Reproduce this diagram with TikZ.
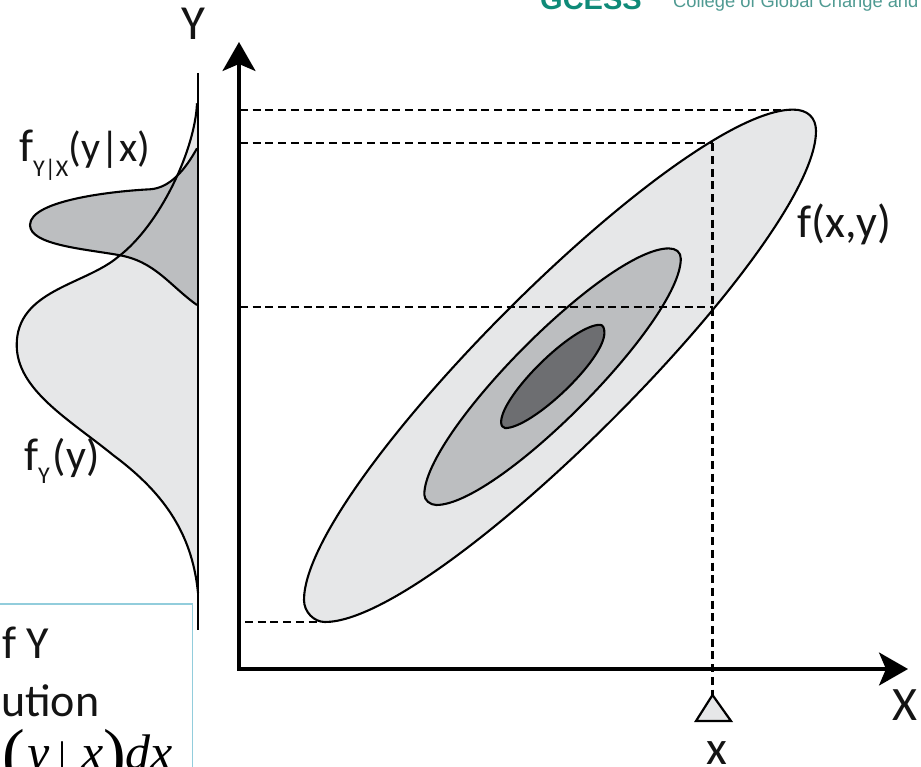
\documentclass[tikz,border=0pt]{standalone}
\usepackage{fontspec}
\setmainfont{Carlito}
\newfontfamily\arialf{Liberation Sans}
\newfontfamily\timesf{Liberation Serif}
\usetikzlibrary{arrows.meta}
\definecolor{lightg}{HTML}{E6E7E8}
\definecolor{midg}{HTML}{BCBEC0}
\definecolor{darkg}{HTML}{6D6E71}
\definecolor{boxb}{HTML}{92CDDC}
\definecolor{logog}{HTML}{0F8A78}
\definecolor{logot}{HTML}{4F9A92}
\tikzset{
  contour/.style={draw=black,line width=2.1pt,line join=round},
  axisline/.style={draw=black,line width=3.2pt},
  guide/.style={draw=black,line width=2.1pt,dash pattern=on 8pt off 4.7pt},
  labb/.style={inner sep=0pt,anchor=base west,font=\fontsize{46}{46}\selectfont,text=black!92},
}
\newcommand{\lightcurve}{(197,103.3) .. controls (195,150) and (160,225) .. (118.3,256.7) .. controls (85,285) and (16.7,290) .. (16.7,345) .. controls (16.7,390) and (70,420) .. (113,455) .. controls (160,490) and (192,530) .. (198,593)}
\newcommand{\darkcurve}{(197,148.3) .. controls (185,170) and (170,188) .. (150,189.3) .. controls (115,191) and (30,200) .. (30,225) .. controls (30,245) and (85,249) .. (118.3,255) .. controls (155,261) and (170,286) .. (197,305)}
\newcommand{\subt}[2]{\raisebox{#1}{\fontsize{24}{24}\selectfont #2}}
\begin{document}
\begin{tikzpicture}[x=1pt,y=-1pt]
\useasboundingbox (0,0) rectangle (921,767);
\clip (0,0) rectangle (921,767);
% logo text
\node[inner sep=0pt,anchor=base west,font=\arialf\bfseries\fontsize{29}{29}\selectfont,text=logog] (logo) at (540,10) {GCESS};
\node[inner sep=0pt,anchor=base west,font=\arialf\fontsize{18.3}{18.3}\selectfont,text=logot] (college) at (673,8) {College of Global Change and E};
% marginal densities
\fill[lightg] \lightcurve -- cycle;
\fill[midg] \darkcurve -- cycle;
\draw[contour] \lightcurve;
\draw[contour] \darkcurve;
\coordinate (vtop) at (198,73);
\coordinate (vbot) at (198,630);
\draw[draw=black,line width=2.2pt] (vtop) -- (vbot);
% joint density
\draw[contour,fill=lightg] (793,109.6) .. controls (808,109.6) and (816,118) .. (816,131)
  .. controls (816,244) and (438,622) .. (325,622)
  .. controls (314,622) and (304,612) .. (304,600)
  .. controls (304,486) and (679,109.6) .. (793,109.6) -- cycle;
\draw[contour,fill=midg] (668.8,248.4) .. controls (676,248.4) and (680.8,252) .. (680.8,258.7)
  .. controls (680.8,320.7) and (498.3,505) .. (436.3,505)
  .. controls (430,505) and (424.3,500) .. (424.3,494.6)
  .. controls (424.3,432.6) and (606.8,248.4) .. (668.8,248.4) -- cycle;
\draw[contour,fill=darkg] (599.9,324.8) .. controls (603,324.8) and (604.4,328) .. (604.4,332.8)
  .. controls (604.4,359.8) and (532.2,428.1) .. (505.2,428.1)
  .. controls (503,428.1) and (501.1,425.5) .. (501.1,422.3)
  .. controls (501.1,395.3) and (572.9,324.8) .. (599.9,324.8) -- cycle;
% guides
\coordinate (ytail) at (239,670.5);
\coordinate (xtail) at (237.5,669);
\coordinate (ytip) at (239,42);
\coordinate (xtip) at (908,669);
\coordinate (g1a) at (240,109.6); \coordinate (g1b) at (790,109.6);
\coordinate (g2a) at (240,143.4); \coordinate (g2b) at (712.5,143.4);
\coordinate (g3a) at (240,307); \coordinate (g3b) at (712.5,307);
\coordinate (g4a) at (245,622); \coordinate (g4b) at (320,622);
\coordinate (triTop) at (712.5,695);
\coordinate (triL) at (696,721);
\coordinate (triR) at (731,721);
\draw[draw=black,line width=2.2pt,line join=miter,fill=lightg] (triTop) -- (triR) -- (triL) -- cycle;
\draw[guide] (g1a) -- (g1b);
\draw[guide] (g2a) -- (g2b);
\draw[guide] (g3a) -- (g3b);
\draw[guide] (g4a) -- (g4b);
\draw[guide] (g2b) -- (triTop);
% axes
\draw[axisline,-{Stealth[length=29pt,width=33pt,inset=7pt]}] (ytail) -- (ytip);
\draw[axisline,-{Stealth[length=29pt,width=33pt,inset=7pt]}] (xtail) -- (xtip);
% labels
\node[labb,font=\fontsize{49}{49}\selectfont] (ylab) at (181,39.5) {Y};
\node[labb,font=\fontsize{48}{48}\selectfont] (xlab) at (892,720) {X};
\node[labb,font=\fontsize{48}{48}\selectfont] (xval) at (706,764) {x};
\node[labb] (fxy) at (797,238) {f(x,y)};
\node[labb] (fyx) at (19,161.5) {f\subt{-15pt}{Y|X}\fontsize{42}{42}\selectfont(y|x)};
\node[labb] (fy) at (24,470) {f\subt{-13pt}{Y}\kern3pt\fontsize{44}{44}\selectfont(y)};
% clipped text box
\coordinate (boxl) at (-2,604); \coordinate (boxr) at (192.5,604); \coordinate (boxe) at (192.5,770);
\draw[draw=boxb,line width=1.7pt] (boxl) -- (boxr) -- (boxe);
\node[labb] (t1) at (2,658) {f Y};
\node[labb] (t2) at (1,716.7) {ution};
\node[inner sep=0pt,anchor=base west,font=\timesf\fontsize{50}{50}\selectfont,text=black] (t3) at (2,769) {\raisebox{-7pt}{\fontsize{68}{68}\selectfont(}\kern3pt\textit{y}\kern8pt\fontsize{40}{40}\selectfont|\fontsize{50}{50}\selectfont\kern15pt\textit{x}\raisebox{-7pt}{\fontsize{68}{68}\selectfont)}\textit{dx}};
\end{tikzpicture}
\end{document}
